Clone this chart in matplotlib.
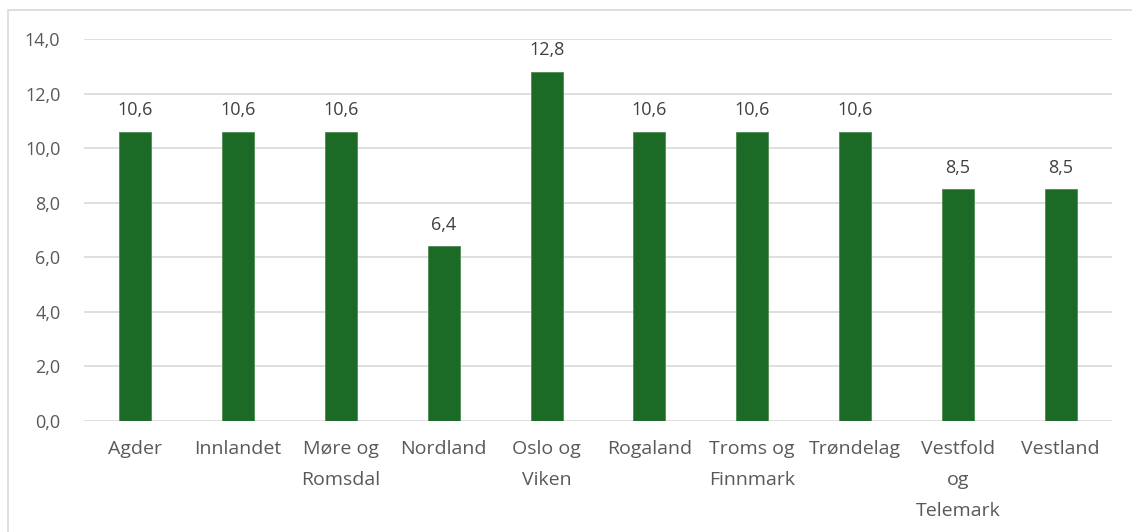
import matplotlib
matplotlib.use("Agg")
import matplotlib.pyplot as plt
from matplotlib.patches import Rectangle

regions = ["Agder", "Innlandet", "Møre og\nRomsdal", "Nordland", "Oslo og\nViken",
           "Rogaland", "Troms og\nFinnmark", "Trøndelag", "Vestfold\nog\nTelemark", "Vestland"]
values = [10.6, 10.6, 10.6, 6.4, 12.8, 10.6, 10.6, 10.6, 8.5, 8.5]
yticks = [0, 2, 4, 6, 8, 10, 12, 14]

plt.rcParams['font.family'] = ['Open Sans', 'DejaVu Sans']

W, H = 1132, 532
fig = plt.figure(figsize=(W / 100, H / 100), dpi=100)

# outer chart frame
fig.patches.append(Rectangle((8 / W, -0.01), 1.1, 1 - 10 / H + 0.01, transform=fig.transFigure,
                             fill=False, edgecolor="#d9d9d9", linewidth=1.2))

left, right, top, bottom = 84, 1112, 39, 421
ax = fig.add_axes([left / W, 1 - bottom / H, (right - left) / W, (bottom - top) / H])

x = list(range(len(regions)))
ax.bar(x, values, width=0.31, color="#1b6a25", edgecolor="#4f8a55", linewidth=0.6, zorder=3)
for xi, v in zip(x, values):
    ax.annotate(f"{v:.1f}".replace(".", ","), (xi, v), xytext=(0, 9), textcoords="offset points",
                ha="center", va="bottom", fontsize=13, color="#404040")

ax.set_xlim(-0.5, len(regions) - 0.5)
ax.set_ylim(0, 14)
ax.set_yticks(yticks)
ax.set_yticklabels([f"{t:.1f}".replace(".", ",") for t in yticks], fontsize=13, color="#595959")
ax.set_xticks(x)
ax.set_xticklabels(regions, fontsize=14, color="#595959", linespacing=1.9)
ax.tick_params(axis="both", length=0)
ax.tick_params(axis="y", pad=17)
ax.tick_params(axis="x", pad=14)
ax.yaxis.grid(True, color="#d9d9d9", linewidth=1.2, zorder=0)
ax.set_axisbelow(True)
for s in ax.spines.values():
    s.set_visible(False)

fig.savefig("out.png", dpi=100)
